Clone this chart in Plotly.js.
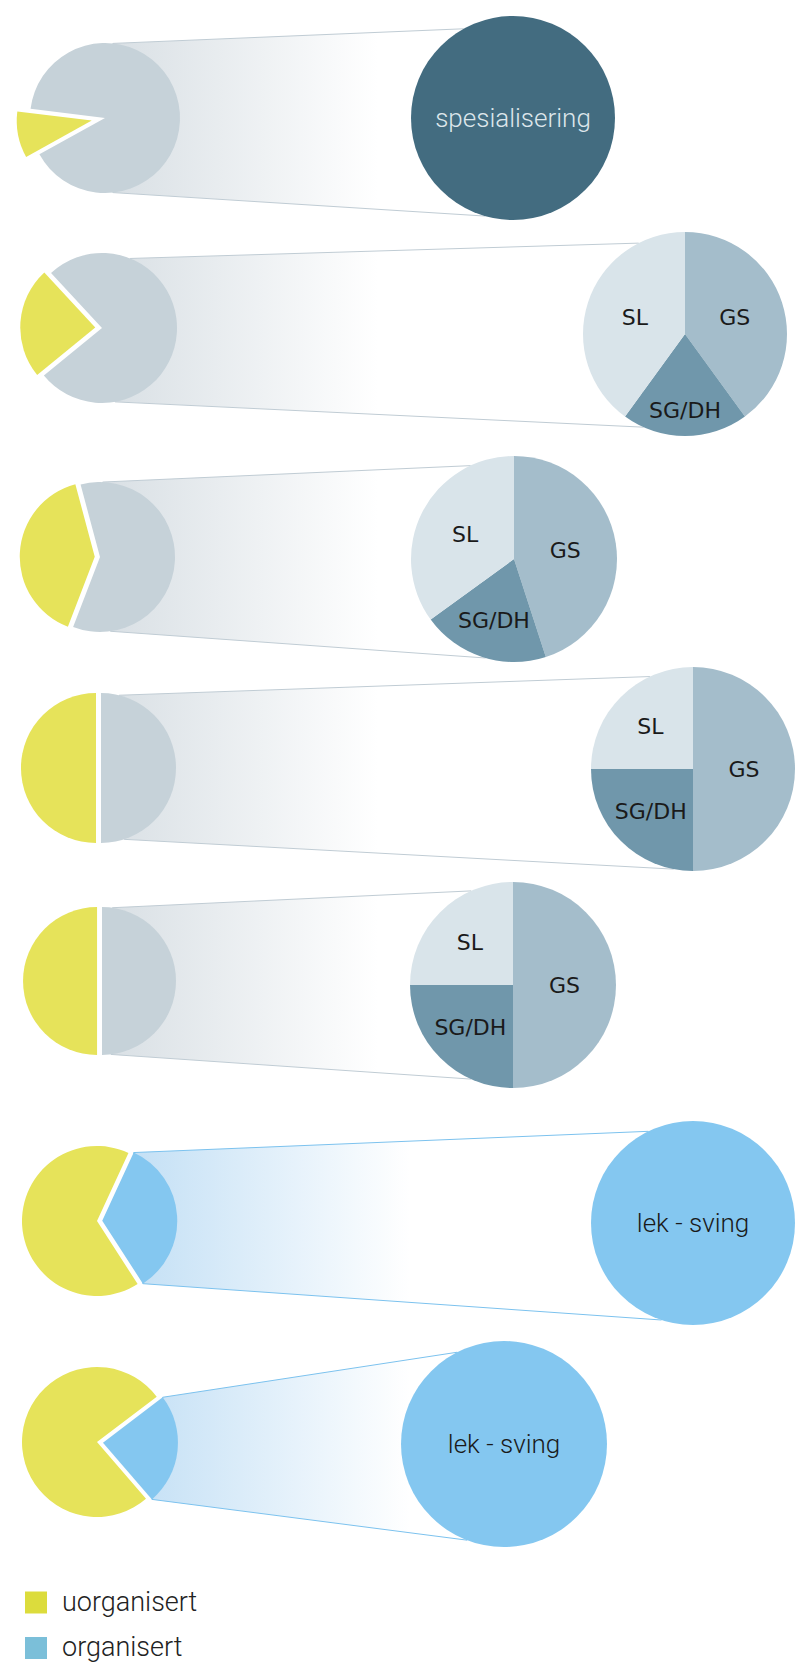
<!DOCTYPE html>
<html><head><meta charset="utf-8">
<script src="https://cdn.plot.ly/plotly-3.0.1.min.js"></script>
<style>html,body{margin:0;padding:0;background:#fff}#chart{width:795px;height:1664px}</style>
</head><body><div id="chart"></div>
<script>
// ---------------- data ----------------
const bigLabels    = ['spesialisering', null, null, null, null, 'lek - sving', 'lek - sving'];
const uorganisert  = [10, 24, 40, 50, 50, 66, 76];
const resten       = [90, 76, 60, 50, 50, 34, 24];
const restKind     = ['spesialisert','spesialisert','spesialisert','spesialisert','spesialisert','organisert','organisert'];
const subLabels    = ['GS', 'SG/DH', 'SL'];
const gsValues     = [40, 45, 50, 50];
const sgdhValues   = [20, 20, 25, 25];
const slValues     = [40, 35, 25, 25];
const legendLabels = ['uorganisert', 'organisert'];

// ---------------- style / layout constants ----------------
const W = 795, H = 1664;
const C = {
  yellow:'#e6e35a', gray:'#c6d2d9', dark:'#436c80', blue:'#84c7f0',
  GS:'#a4bdcb', SGDH:'#7097ab', SL:'#d9e4ea',
  legYellow:'#dcdc3c', legBlue:'#7bbfd9',
  lineGray:'#c0ccd4', lineBlue:'#7cc2ee',
  gradGray:'#d8dfe4', gradBlue:'#bcdcf4'
};
const smallGeom = [
  {cx:105, cy:118,  r:75, pull:0.18,  mid:259},
  {cx:102, cy:328,  r:75, pull:0.09,  mid:274},
  {cx:100, cy:557,  r:75, pull:0.07,  mid:273},
  {cx:101, cy:768,  r:75, pull:0.067, mid:270},
  {cx:102, cy:981,  r:74, pull:0.067, mid:270},
  {cx:97,  cy:1221, r:75, pull:0.07,  mid:266},
  {cx:97,  cy:1442, r:75, pull:0.08,  mid:276}
];
const bigGeom = [
  {cx:513, cy:118,  r:102},
  {cx:685, cy:334,  r:102},
  {cx:514, cy:559,  r:103},
  {cx:693, cy:769,  r:102},
  {cx:513, cy:985,  r:103},
  {cx:693, cy:1223, r:102},
  {cx:504, cy:1444, r:103}
];
const conn = {
  smallTop:[6,22,2,14,8], smallBot:[174,170,172,162,173],
  bigTop:[331,333,335,335,336,334,333], bigBot:[196,204,196,191,204,198,201]
};
const legendPos = [{x:36, y:1602.5}, {x:36, y:1648}];

function dom(cx, cy, r, pull){
  const h = r*(1+pull);
  const cl = v => Math.max(0, Math.min(1, v));
  return {x:[cl((cx-h)/W), cl((cx+h)/W)], y:[cl(1-(cy+h)/H), cl(1-(cy-h)/H)]};
}
function pt(cx, cy, r, deg){
  const a = deg*Math.PI/180;
  return [cx + r*Math.sin(a), cy - r*Math.cos(a)];
}

const traces = [];

// connectors
for (let i = 0; i < uorganisert.length; i++) {
  const s = smallGeom[i], b = bigGeom[i];
  const isOrg = restKind[i] === 'organisert';
  let p1, p2;
  if (isOrg) {
    const rot = s.mid - uorganisert[i]*1.8;
    const a0 = rot + uorganisert[i]*3.6;
    const a1 = a0 + resten[i]*3.6;
    const am = (a0+a1)/2;
    const off = pt(0, 0, s.pull*s.r, am);
    p1 = pt(s.cx+off[0], s.cy+off[1], s.r, a0);
    p2 = pt(s.cx+off[0], s.cy+off[1], s.r, a1);
  } else {
    p1 = pt(s.cx, s.cy, s.r, conn.smallTop[i]);
    p2 = pt(s.cx, s.cy, s.r, conn.smallBot[i]);
  }
  const q1 = pt(b.cx, b.cy, b.r, conn.bigTop[i]);
  const q2 = pt(b.cx, b.cy, b.r, conn.bigBot[i]);
  const xs = [p1[0], q1[0], q2[0], p2[0], p1[0]];
  const ys = [p1[1], q1[1], q2[1], p2[1], p1[1]];
  traces.push({
    type:'scatter', mode:'lines', x:xs, y:ys, fill:'toself',
    fillgradient:{type:'horizontal', start: s.cx, stop: isOrg ? 410 : 378,
      colorscale:[[0, isOrg ? C.gradBlue : C.gradGray],[1,'#ffffff']]},
    line:{color: isOrg ? C.lineBlue : C.lineGray, width:1},
    hoverinfo:'skip', showlegend:false
  });
}

// legend squares
traces.push({
  type:'scatter', mode:'markers',
  x: legendPos.map(p=>p.x), y: legendPos.map(p=>p.y),
  marker:{symbol:'square', size:22, color:[C.legYellow, C.legBlue], line:{width:0}},
  hoverinfo:'skip', showlegend:false
});

// small pies
for (let i = 0; i < uorganisert.length; i++) {
  const s = smallGeom[i];
  const isOrg = restKind[i] === 'organisert';
  traces.push({
    type:'pie', sort:false, direction:'clockwise',
    values:[uorganisert[i], resten[i]],
    labels:['uorganisert', restKind[i]],
    rotation: s.mid - uorganisert[i]*1.8,
    marker:{colors:[C.yellow, isOrg ? C.blue : C.gray], line:{width:0}},
    pull: isOrg ? [0, s.pull] : [s.pull, 0],
    textinfo:'none', hoverinfo:'skip', showlegend:false,
    domain: dom(s.cx, s.cy, s.r, s.pull)
  });
}

// big pies
let k = 0;
for (let i = 0; i < uorganisert.length; i++) {
  const b = bigGeom[i];
  if (bigLabels[i]) {
    const isOrg = restKind[i] === 'organisert';
    traces.push({
      type:'pie', sort:false, values:[100], labels:[bigLabels[i]],
      marker:{colors:[isOrg ? C.blue : C.dark], line:{width:0}},
      textinfo:'label', textposition:'inside', insidetextorientation:'horizontal',
      textfont:{family:'Roboto', size:26, weight:300, color: isOrg ? '#1a1a1a' : '#dde6eb'},
      hoverinfo:'skip', showlegend:false,
      domain: dom(b.cx, b.cy, b.r, 0)
    });
  } else {
    traces.push({
      type:'pie', sort:false, direction:'clockwise', rotation:0,
      values:[gsValues[k], sgdhValues[k], slValues[k]], labels:subLabels,
      marker:{colors:[C.GS, C.SGDH, C.SL], line:{width:0}},
      textinfo:'label', textposition:'inside', insidetextorientation:'horizontal',
      textfont:{family:'DejaVu Sans', size:22, color:'#1a1a1a'},
      hoverinfo:'skip', showlegend:false,
      domain: dom(b.cx, b.cy, b.r, 0)
    });
    k++;
  }
}

const annotations = legendLabels.map((t, j) => ({
  x: legendPos[j].x + 24, y: legendPos[j].y - 1, xref:'x', yref:'y',
  text: t, showarrow:false, xanchor:'left', yanchor:'middle',
  font:{family:'Roboto', size:27, weight:300, color:'#222222'}
}));

const layout = {
  width:W, height:H, margin:{l:0, r:0, t:0, b:0, pad:0},
  paper_bgcolor:'#ffffff', plot_bgcolor:'rgba(0,0,0,0)',
  showlegend:false,
  font:{family:'Roboto'},
  xaxis:{range:[0, W], visible:false, fixedrange:true},
  yaxis:{range:[H, 0], visible:false, fixedrange:true},
  annotations
};

Plotly.newPlot('chart', traces, layout, {displayModeBar:false, staticPlot:true});
</script>
</body></html>
